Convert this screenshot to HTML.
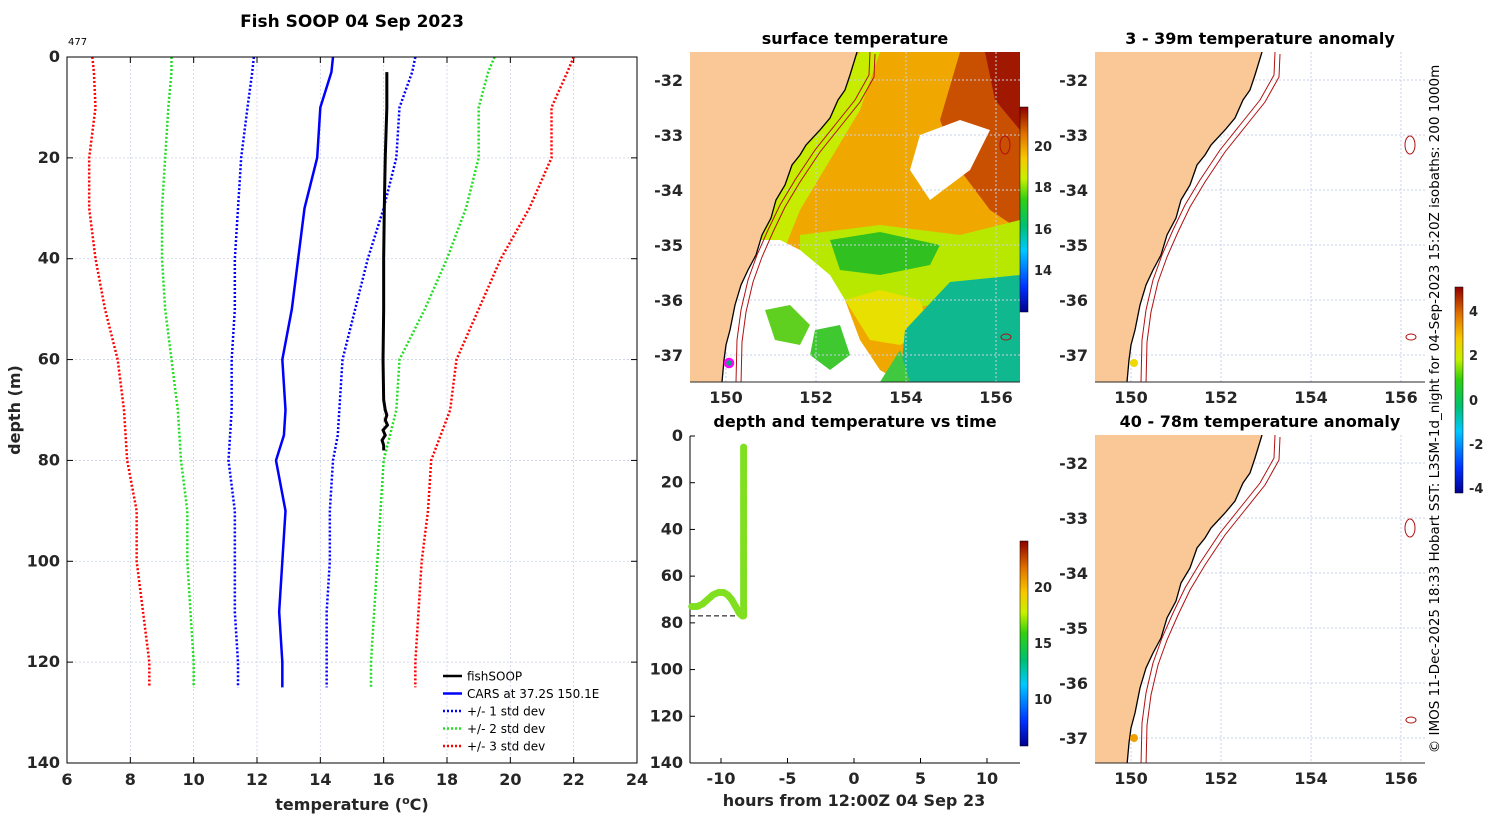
<!DOCTYPE html>
<html><head><meta charset="utf-8">
<style>
body{margin:0;background:#fff;font-family:"Liberation Sans","DejaVu Sans",sans-serif;}
svg text{font-family:"DejaVu Sans","Liberation Sans",sans-serif;}
</style></head>
<body>
<svg id="fig" width="1500" height="820" viewBox="0 0 1500 820" xmlns="http://www.w3.org/2000/svg">
<defs>
<linearGradient id="jet" x1="0" y1="1" x2="0" y2="0">
<stop offset="0" stop-color="#00008f"/><stop offset="0.12" stop-color="#0030ff"/><stop offset="0.3" stop-color="#00c8ff"/>
<stop offset="0.42" stop-color="#00c070"/><stop offset="0.55" stop-color="#30d010"/><stop offset="0.65" stop-color="#c8f000"/>
<stop offset="0.75" stop-color="#f8c800"/><stop offset="0.87" stop-color="#e07000"/><stop offset="1" stop-color="#900000"/>
</linearGradient>
<clipPath id="c1"><rect x="690" y="52" width="330" height="330"/></clipPath>
<clipPath id="c2"><rect x="1095" y="52" width="330" height="330"/></clipPath>
<clipPath id="c3"><rect x="1095" y="435" width="330" height="328"/></clipPath>
</defs>
<g id="profile"></g>
<g id="timeplot"></g>
<g id="maps"></g>
</svg>
<script>
// ---- profile data ----
const depths = [0,3,10,20,30,40,50,60,70,75,80,90,100,110,120,125];
const carsMean = [14.4,14.35,14.0,13.9,13.5,13.3,13.1,12.8,12.9,12.85,12.6,12.9,12.8,12.7,12.8,12.8];
const plus1 = [17.0,16.9,16.5,16.4,16.0,15.5,15.1,14.7,14.6,14.55,14.4,14.3,14.3,14.2,14.2,14.2];
const minus1 = [11.9,11.85,11.7,11.5,11.4,11.3,11.3,11.2,11.2,11.15,11.1,11.3,11.3,11.3,11.4,11.4];
const plus2 = [19.5,19.3,19.0,19.0,18.6,18.0,17.3,16.5,16.4,16.2,16.0,15.9,15.8,15.7,15.6,15.6];
const minus2 = [9.3,9.3,9.2,9.1,9.0,9.0,9.1,9.3,9.5,9.55,9.6,9.8,9.8,9.9,10.0,10.0];
const plus3 = [22.0,21.8,21.3,21.3,20.6,19.7,19.0,18.3,18.1,17.8,17.5,17.4,17.2,17.1,17.0,17.0];
const minus3 = [6.8,6.85,6.9,6.7,6.7,6.9,7.2,7.6,7.8,7.85,7.9,8.2,8.2,8.4,8.6,8.6];
const fishDepth = [3,10,20,30,40,50,60,68,70,71,72,73,74,75,76,77,78];
const fishTemp = [16.1,16.1,16.05,16.02,16.0,16.0,15.98,16.0,16.05,16.1,16.05,16.12,15.98,16.05,15.95,16.0,16.0];
const xTicks = [6,8,10,12,14,16,18,20,22,24];
const yTicks = [0,20,40,60,80,100,120,140];
// ---- depth vs time data ----
const tHours = [-12.2,-11.8,-11.4,-11.0,-10.6,-10.2,-9.8,-9.5,-9.2,-8.9,-8.6,-8.4,-8.3,-8.3,-8.3,-8.3,-8.3,-8.3,-8.3];
const tDepth = [73,73,72,70,68,67,67,68,70,73,76,77,77,65,50,35,20,10,4];
const hTicks = [-10,-5,0,5,10];
const dTicks = [0,20,40,60,80,100,120,140];

const NS='http://www.w3.org/2000/svg';
function mk(parent,tag,attrs,txt){const e=document.createElementNS(NS,tag);for(const k in attrs)e.setAttribute(k,attrs[k]);if(txt!==undefined)e.textContent=txt;parent.appendChild(e);return e;}

// ===== Profile chart =====
(function(){
const g=document.getElementById('profile');
const L=67,R=637,T=57,B=763;
const xs=t=>L+(t-6)/18*(R-L), ys=d=>T+d/140*(B-T);
xTicks.forEach(t=>{
 const l=mk(g,'line',{x1:xs(t),x2:xs(t),y1:T,y2:B,stroke:'#c8cfe8','stroke-width':0.8,'stroke-dasharray':'2,2'});
 
 mk(g,'line',{x1:xs(t),x2:xs(t),y1:B,y2:B-6,stroke:'#000'});mk(g,'line',{x1:xs(t),x2:xs(t),y1:T,y2:T+6,stroke:'#000'});
 const tx=mk(g,'text',{x:xs(t),y:B+22,'text-anchor':'middle','font-size':16,'font-weight':'bold',fill:'#262626'},t);
 
});
yTicks.forEach(d=>{
 mk(g,'line',{x1:L,x2:R,y1:ys(d),y2:ys(d),stroke:'#c8cfe8','stroke-width':0.8,'stroke-dasharray':'2,2'});
 mk(g,'line',{x1:L,x2:L+6,y1:ys(d),y2:ys(d),stroke:'#000'});mk(g,'line',{x1:R,x2:R-6,y1:ys(d),y2:ys(d),stroke:'#000'});
 const tx=mk(g,'text',{x:L-7,y:ys(d)+5,'text-anchor':'end','font-size':16,'font-weight':'bold',fill:'#262626'},d);
 
});
const series=[[minus3,'#ff0000',true,'minus-3-std'],[minus2,'#22dd22',true,'minus-2-std'],[minus1,'#0000ff',true,'minus-1-std'],[carsMean,'#0000ff',false,'cars-mean'],[plus1,'#0000ff',true,'plus-1-std'],[plus2,'#22dd22',true,'plus-2-std'],[plus3,'#ff0000',true,'plus-3-std']];
series.forEach(s=>{
 const p=mk(g,'polyline',{points:depths.map((d,i)=>xs(s[0][i])+','+ys(d)).join(' '),fill:'none',stroke:s[1],'stroke-width':2.5,'stroke-dasharray':s[2]?'2,2':'none'});
 
});
const f=mk(g,'polyline',{points:fishDepth.map((d,i)=>xs(fishTemp[i])+','+ys(d)).join(' '),fill:'none',stroke:'#000','stroke-width':3});

const fr=mk(g,'rect',{x:L,y:T,width:R-L,height:B-T,fill:'none',stroke:'#000','stroke-width':1});

const tt=mk(g,'text',{x:352,y:27,'text-anchor':'middle','font-size':17,'font-weight':'bold'},'Fish SOOP 04 Sep 2023');

const n=mk(g,'text',{x:68,y:45,'font-size':10},'477');
const xt=mk(g,'text',{x:352,y:810,'text-anchor':'middle','font-size':16,'font-weight':'bold',fill:'#262626'});
xt.innerHTML='temperature (<tspan font-size="11" dy="-6">o</tspan><tspan dy="6">C)</tspan>';

const yt=mk(g,'text',{x:20,y:410,'text-anchor':'middle','font-size':16,'font-weight':'bold',fill:'#262626',transform:'rotate(-90 20 410)'},'depth (m)');

const leg=[['fishSOOP','#000',false],['CARS at 37.2S 150.1E','#0000ff',false],['+/- 1 std dev','#0000ff',true],['+/- 2 std dev','#22dd22',true],['+/- 3 std dev','#ff0000',true]];
leg.forEach((l,i)=>{const y=676+i*17.5;
 const e=mk(g,'g',{});
 mk(e,'line',{x1:443,x2:462,y1:y,y2:y,stroke:l[1],'stroke-width':2.5,'stroke-dasharray':l[2]?'2,2':'none'});
 mk(e,'text',{x:467,y:y+4.5,'font-size':12},l[0]);});
})();

// ===== depth vs time =====
(function(){
const g=document.getElementById('timeplot');
const L=690,R=1020,T=436,B=763;
const xs=h=>854+h*13.3, ys=d=>T+d/140*(B-T);
hTicks.forEach(h=>{mk(g,'line',{x1:xs(h),x2:xs(h),y1:B,y2:B-5,stroke:'#000'});
 const t=mk(g,'text',{x:xs(h),y:B+21,'text-anchor':'middle','font-size':16,'font-weight':'bold',fill:'#262626'},h);
 });
dTicks.forEach(d=>{mk(g,'line',{x1:L,x2:L+5,y1:ys(d),y2:ys(d),stroke:'#000'});
 const t=mk(g,'text',{x:L-7,y:ys(d)+5,'text-anchor':'end','font-size':16,'font-weight':'bold',fill:'#262626'},d);
 });
mk(g,'line',{x1:L,x2:R,y1:B,y2:B,stroke:'#000'});mk(g,'line',{x1:L,x2:L,y1:T,y2:B,stroke:'#000'});
const dl=mk(g,'line',{x1:L,x2:xs(-8.3),y1:ys(77),y2:ys(77),stroke:'#000','stroke-dasharray':'5,3'});

for(let i=0;i<tHours.length-1;i++){
 const n=Math.max(2,Math.ceil(Math.hypot(xs(tHours[i+1])-xs(tHours[i]),ys(tDepth[i+1])-ys(tDepth[i]))/2));
 for(let k=0;k<n;k++){const a=k/n;
  const c=mk(g,'circle',{cx:xs(tHours[i]+(tHours[i+1]-tHours[i])*a),cy:ys(tDepth[i]+(tDepth[i+1]-tDepth[i])*a),r:3.5,fill:'#80e020'});
  }
}
const t=mk(g,'text',{x:855,y:427,'text-anchor':'middle','font-size':16,'font-weight':'bold'},'depth and temperature vs time');

const xt=mk(g,'text',{x:854,y:806,'text-anchor':'middle','font-size':16,'font-weight':'bold',fill:'#262626'},'hours from 12:00Z 04 Sep 23');

const cb=mk(g,'rect',{x:1020,y:541,width:8,height:205,fill:'url(#jet)',stroke:'#000','stroke-width':0.5});

[[20,587],[15,643],[10,699]].forEach(v=>{const e=mk(g,'text',{x:1034,y:v[1]+5,'font-size':13,'font-weight':'bold',fill:'#262626'},v[0]);
 });
})();

// ===== maps =====
(function(){
const g=document.getElementById('maps');
const coast=[[857,52],[850,75],[845,90],[838,100],[830,118],[820,130],[806,145],[800,155],[792,165],[785,185],[776,200],[771,218],[762,235],[756,255],[748,270],[741,285],[735,305],[730,330],[726,345],[724,360],[722,382]];
const iso1=[[870,52],[869,75],[855,100],[835,125],[815,150],[795,180],[780,205],[768,230],[757,255],[748,280],[741,310],[737,340],[736,382]];
const iso2=iso1.map(p=>[p[0]+5,p[1]+2]);
function sh(a,dx,dy){return a.map(p=>(p[0]+dx)+','+(p[1]+dy)).join(' ');}
function map(dx,dy,clip,h,name,sst){
 const m=mk(g,'g',{'clip-path':'url(#'+clip+')'});
 mk(m,'rect',{x:690+dx,y:52+dy,width:330,height:h,fill:'#fff'});
 if(sst){
  mk(m,'rect',{x:740,y:52,width:280,height:330,fill:'#f0a800'});
  mk(m,'polygon',{points:'960,52 1020,52 1020,230 990,210 960,170 940,120',fill:'#c85000'});
  mk(m,'polygon',{points:'985,52 1020,52 1020,130 995,100',fill:'#a01800'});
  mk(m,'polygon',{points:'740,230 760,200 790,160 820,100 860,52 880,52 860,110 830,160 800,210 780,260',fill:'#c8ec00'});
  mk(m,'polygon',{points:'800,235 880,225 960,235 1020,220 1020,290 960,300 900,310 840,300 800,280',fill:'#b8e800'});
  mk(m,'polygon',{points:'830,240 880,232 940,245 930,265 880,275 840,270',fill:'#30c020'});
  mk(m,'polygon',{points:'740,240 780,240 800,250 830,275 845,300 860,340 880,370 900,382 740,382',fill:'#fff'});
  mk(m,'polygon',{points:'845,300 880,290 920,300 930,330 900,345 870,340',fill:'#e8e000'});
  mk(m,'polygon',{points:'765,310 790,305 810,325 800,345 775,340',fill:'#60d020'});
  mk(m,'polygon',{points:'815,330 840,325 850,355 830,370 810,355',fill:'#40c830'});
  mk(m,'polygon',{points:'920,135 960,120 990,130 970,170 930,200 910,170',fill:'#fff'});
  mk(m,'polygon',{points:'905,330 950,282 1020,275 1020,382 900,382',fill:'#10b890'});
  mk(m,'polygon',{points:'880,382 900,350 910,382',fill:'#40c840'});
 }
 for(let i=0;i<4;i++){mk(m,'line',{x1:726+dx+i*90,x2:726+dx+i*90,y1:52+dy,y2:52+dy+h,stroke:'#c8cfe8','stroke-dasharray':'2,2'});}
 for(let i=0;i<6;i++){mk(m,'line',{x1:690+dx,x2:1020+dx,y1:80+dy+i*55,y2:80+dy+i*55,stroke:'#c8cfe8','stroke-dasharray':'2,2'});}
 const land=mk(m,'polygon',{points:sh(coast,dx,dy)+' '+(690+dx)+','+(400+dy)+' '+(690+dx)+','+(52+dy),fill:'#fac896',stroke:'none'});
 
 mk(m,'polyline',{points:sh(coast,dx,dy),fill:'none',stroke:'#000','stroke-width':1.3});
 mk(m,'polyline',{points:sh(iso1,dx,dy),fill:'none',stroke:'#b01010','stroke-width':1});
 mk(m,'polyline',{points:sh(iso2,dx,dy),fill:'none',stroke:'#b01010','stroke-width':1});
 mk(m,'ellipse',{cx:1005+dx,cy:145+dy,rx:5,ry:9,fill:'none',stroke:'#b01010'});
 mk(m,'ellipse',{cx:1006+dx,cy:337+dy,rx:5,ry:3,fill:'none',stroke:'#b01010'});
 [150,152,154,156].forEach((v,i)=>{const t=mk(g,'text',{x:726+dx+i*90,y:52+dy+h+21,'text-anchor':'middle','font-size':16,'font-weight':'bold',fill:'#262626'},v);
  });
 [-32,-33,-34,-35,-36,-37].forEach((v,i)=>{const t=mk(g,'text',{x:683+dx,y:86+dy+i*55,'text-anchor':'end','font-size':16,'font-weight':'bold',fill:'#262626'},v);
  });
 mk(g,'line',{x1:690+dx,x2:1020+dx,y1:52+dy+h,y2:52+dy+h,stroke:'#262626'});
}
map(0,0,'c1',330,'sst-map',true);
map(405,0,'c2',330,'anomaly-map-shallow',false);
map(405,383,'c3',328,'anomaly-map-deep',false);
const mk1=mk(g,'circle',{cx:729,cy:363,r:4,fill:'#10a080',stroke:'#ff00ff','stroke-width':2.5});
const mk2=mk(g,'circle',{cx:1134,cy:363,r:4,fill:'#f0d800'});
const mk3=mk(g,'circle',{cx:1134,cy:738,r:4,fill:'#f0a000'});
[['surface temperature',855,44],['3 - 39m temperature anomaly',1260,44],['40 - 78m temperature anomaly',1260,427]].forEach(a=>{
 const t=mk(g,'text',{x:a[1],y:a[2],'text-anchor':'middle','font-size':16,'font-weight':'bold'},a[0]);});
const cb1=mk(g,'rect',{x:1020,y:107,width:8,height:205,fill:'url(#jet)',stroke:'#000','stroke-width':0.5});
[[20,146],[18,187],[16,229],[14,270]].forEach(v=>{const e=mk(g,'text',{x:1034,y:v[1]+5,'font-size':13,'font-weight':'bold',fill:'#262626'},v[0]);});
const cb2=mk(g,'rect',{x:1455,y:287,width:8,height:206,fill:'url(#jet)',stroke:'#000','stroke-width':0.5});
[[4,311],[2,355],[0,400],[-2,444],[-4,488]].forEach(v=>{const e=mk(g,'text',{x:1469,y:v[1]+5,'font-size':13,'font-weight':'bold',fill:'#262626'},v[0]);});
const cr=mk(g,'text',{x:1439,y:409,'text-anchor':'middle','font-size':13.5,fill:'#000',transform:'rotate(-90 1439 409)'},'© IMOS 11-Dec-2025 18:33 Hobart SST: L3SM-1d_night for 04-Sep-2023 15:20Z isobaths: 200  1000m');

})();
</script>
</body></html>
